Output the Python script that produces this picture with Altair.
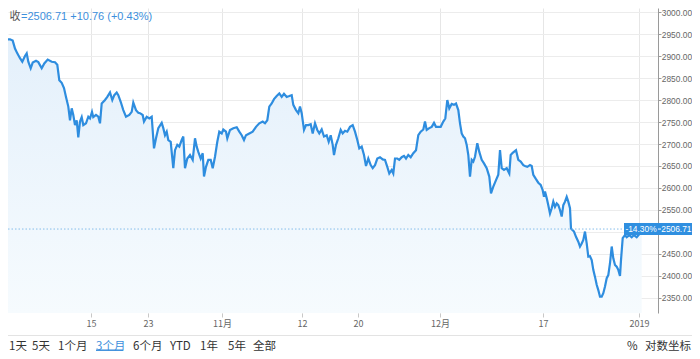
import altair as alt
import pandas as pd

# time position of each sample (in tenths of a trading day since the start of the 3-month window)
step = [
    0, 3.3, 6, 10, 12.7, 15, 17.3, 20, 22.3, 25, 26.7, 28.3, 30.7, 32.7, 36, 38.3, 41.7, 44.3, 47.7, 51.7,
    55, 57.3, 59.3, 61.7, 64, 66, 68.3, 70, 71.7, 73.3, 75, 76.7, 78.3, 80, 81.7, 83.3, 86, 88.3, 90, 92,
    93.3, 96, 98.3, 100, 101.7, 105, 107.3, 110, 112.3, 114.3, 116.7, 118.3, 120.7, 123.3, 126, 129.3, 131.7, 133.3, 136, 138.3,
    140, 142.7, 144, 146.7, 149.3, 151.7, 154, 156, 158.3, 161.7, 163.3, 165, 166.7, 168.3, 170.7, 173.3, 175, 177.3, 179.3, 181.7,
    183.3, 185, 187.3, 190, 192.7, 195, 196.7, 198.3, 200.7, 202.7, 204, 206, 208.3, 210.7, 212.7, 215, 217.3, 219.3, 221.7, 223.3,
    226, 227.3, 230, 233.3, 236.7, 239.3, 241.7, 244, 246, 249.3, 252.7, 256, 259.3, 262.7, 265, 267.3, 269.3, 271.7, 274, 276.7,
    279.3, 281.7, 284, 286.7, 289.3, 291.7, 293.3, 296, 298.3, 300, 301.7, 304, 306, 308.3, 310.7, 312.7, 315, 317.3, 319.3, 321.7,
    324, 326.7, 328.7, 330.7, 332.7, 334, 336, 338.3, 340.7, 342.7, 345, 347.3, 350, 352.7, 355, 357.3, 359.3, 361.7, 364, 366,
    368.3, 370.7, 372.7, 375, 377.3, 380, 382.7, 385, 387.3, 389.3, 391.7, 393.3, 395, 397.3, 399.3, 401.7, 404, 406, 408.3, 410.7,
    413.3, 416, 418.3, 420.7, 423.3, 425, 426.7, 429.3, 431.7, 434, 436, 438.3, 440.7, 443.3, 445.3, 447.3, 449.3, 451.7, 454, 456,
    458.3, 460, 461.7, 463.3, 465, 466.7, 468.3, 470, 471.7, 473.3, 475, 477.3, 479.3, 481.7, 484, 486.7, 489.3, 491, 493.3, 496,
    498.3, 500, 501.7, 504, 506.7, 509.3, 510.7, 512.7, 516, 518.3, 520.7, 523.3, 525, 527.3, 530, 531.7, 533.3, 536, 538.3, 540.7,
    542.7, 544, 545, 546.7, 548.3, 550, 551.7, 553.3, 555, 556.7, 558.3, 560, 561.7, 563.3, 565, 566.7, 568.3, 570, 571, 572.7,
    574, 576, 578.3, 580, 581.7, 583.3, 585, 586.7, 588.3, 590, 591.7, 593.3, 595, 596.7, 598.3, 600, 601.7, 603.3, 605, 606.7,
    608.3, 610, 611.7, 613.3, 615, 616.7, 618.3, 620, 621, 622.7, 625, 626.7, 629.3, 631.7, 634, 636.7, 639.3, 641.7,
]
close = [
    2930, 2925, 2938, 2938, 2935, 2917, 2906, 2895, 2887, 2900, 2906, 2887, 2872, 2885, 2889, 2886, 2872, 2883, 2892, 2887,
    2886, 2880, 2845, 2839, 2827, 2807, 2785, 2754, 2781, 2766, 2743, 2754, 2715, 2751, 2761, 2743, 2747, 2762, 2758, 2773,
    2761, 2766, 2762, 2747, 2792, 2800, 2807, 2817, 2800, 2811, 2817, 2811, 2796, 2777, 2762, 2766, 2773, 2794, 2777, 2771,
    2770, 2766, 2751, 2762, 2758, 2762, 2690, 2713, 2736, 2748, 2736, 2720, 2728, 2709, 2705, 2645, 2686, 2698, 2694, 2709,
    2717, 2645, 2667, 2675, 2664, 2713, 2694, 2682, 2667, 2679, 2626, 2648, 2664, 2664, 2645, 2671, 2705, 2728, 2724, 2733,
    2728, 2713, 2732, 2736, 2738, 2728, 2720, 2709, 2720, 2724, 2728, 2739, 2747, 2751, 2747, 2754, 2785, 2792, 2802, 2809,
    2815, 2807, 2814, 2807, 2809, 2811, 2789, 2777, 2770, 2785, 2770, 2732, 2743, 2743, 2745, 2724, 2747, 2732, 2724, 2733,
    2717, 2720, 2705, 2720, 2698, 2675, 2698, 2713, 2732, 2724, 2730, 2728, 2739, 2743, 2728, 2709, 2690, 2694, 2675, 2650,
    2667, 2652, 2645, 2652, 2667, 2670, 2665, 2664, 2648, 2633, 2641, 2633, 2667, 2667, 2664, 2670, 2673, 2667, 2675, 2670,
    2679, 2686, 2720, 2728, 2733, 2751, 2732, 2736, 2739, 2748, 2739, 2739, 2739, 2751, 2758, 2800, 2781, 2791, 2789, 2792,
    2777, 2747, 2724, 2717, 2713, 2698, 2675, 2626, 2664, 2660, 2671, 2702, 2682, 2664, 2656, 2645, 2626, 2588, 2603, 2618,
    2630, 2686, 2645, 2641, 2645, 2633, 2675, 2680, 2686, 2664, 2660, 2652, 2650, 2648, 2652, 2650, 2630, 2620, 2612, 2607,
    2595, 2580, 2592, 2577, 2561, 2542, 2554, 2569, 2557, 2565, 2561, 2550, 2535, 2561, 2569, 2580, 2569, 2554, 2508, 2504,
    2501, 2489, 2478, 2467, 2474, 2482, 2501, 2474, 2444, 2445, 2436, 2414, 2398, 2380, 2368, 2353, 2353, 2361, 2376, 2395,
    2402, 2429, 2467, 2440, 2425, 2421, 2414, 2400, 2436, 2486, 2493, 2488, 2493, 2488, 2493, 2488, 2495, 2506.71,
]
assert len(step) == len(close)

y_ticks = [2350, 2400, 2450, 2500, 2550, 2600, 2650, 2700, 2750, 2800, 2850, 2900, 2950, 3000]
hidden_y_label = 2500  # covered by the last-price flag in the reference
x_tick_pos = [91, 148, 222, 302, 358, 440, 543, 639]
x_tick_lab = ["15", "23", "11月", "12", "20", "12月", "17", "2019"]

last_close = 2506.71
header_label = "收"
header_value = "=2506.71  +10.76 (+0.43%)"
period_change = "-14.30%"
range_buttons = ["1天", "5天", "1个月", "3个月", "6个月", "YTD", "1年", "5年", "全部"]
active_button = "3个月"
right_buttons = ["%", "对数坐标"]

# ---- layout (pixels) ----
PLOT_W, PLOT_H = 650, 305
TOTAL_W, TOTAL_H = 684, 343
X_DOMAIN = [8, 658]
Y_DOMAIN = [2315.9, 3009.1]
FONT = "Liberation Sans, 'Noto Sans CJK SC', sans-serif"
CJK = "'Noto Sans CJK SC', 'Liberation Sans', sans-serif"
LINE = "#2e8ddf"
BLUE_TXT = "#3d8fdc"

df = pd.DataFrame({"step": step, "close": close})

label_expr = " : ".join(
    f"datum.value == {p} ? '{l}'" for p, l in zip(x_tick_pos[:-1], x_tick_lab[:-1])
) + f" : '{x_tick_lab[-1]}'"

xs = alt.Scale(domain=X_DOMAIN, nice=False, zero=False)
ys = alt.Scale(domain=Y_DOMAIN, nice=False, zero=False)

x_axis = alt.Axis(
    values=x_tick_pos, labelExpr=label_expr, grid=True, gridColor="#e6e6e6", domain=False,
    tickColor="#c8c8c8", tickSize=4, labelColor="#666666", labelFontSize=9, labelFont=CJK,
    labelPadding=2, title=None, labelFlush=False,
)
y_axis = alt.Axis(
    orient="right", values=y_ticks,
    labelExpr=f"datum.value == {hidden_y_label} ? '' : format(datum.value, '.2f')",
    grid=True, gridColor="#ececec",
    domainColor="#9a9a9a", tickColor="#9a9a9a", tickSize=3, labelColor="#666666",
    labelFontSize=8.4, labelFont=FONT, labelPadding=0.3, title=None,
)

X = lambda f: alt.X(f, scale=xs, axis=x_axis)
Y = lambda f: alt.Y(f, scale=ys, axis=y_axis)

area = alt.Chart(df).mark_area(
    clip=True,
    color=alt.Gradient(
        gradient="linear",
        stops=[alt.GradientStop(color="#e4f0fb", offset=0), alt.GradientStop(color="#f6fbfe", offset=1)],
        x1=1, x2=1, y1=0, y2=1,
    ),
).encode(x=X("step:Q"), y=Y("close:Q"), y2=alt.datum(Y_DOMAIN[0]))

line = alt.Chart(df).mark_line(clip=True, color=LINE, strokeWidth=2.2).encode(
    x=X("step:Q"), y=Y("close:Q"),
)

ref = pd.DataFrame({"y": [last_close], "x0": [X_DOMAIN[0]], "x1": [622],
                    "ytop": [last_close + 13.6], "ybot": [last_close - 13.6],
                    "pct": [period_change], "val": [f"{last_close:.2f}"]})

dotted = alt.Chart(ref).mark_rule(color="#86bdea", strokeDash=[1.5, 2], strokeWidth=1).encode(
    x=X("x0:Q"), x2="x1:Q", y=Y("y:Q"),
)

box = alt.Chart(ref).mark_rect(color="#2f8fe0").encode(
    x=alt.value(616), x2=alt.value(TOTAL_W), y=Y("ytop:Q"), y2="ybot:Q",
)

box_tick = alt.Chart(ref).mark_rule(color="white", strokeWidth=1).encode(
    x=alt.value(PLOT_W), x2=alt.value(PLOT_W + 3), y=Y("y:Q"),
)

box_pct = alt.Chart(ref).mark_text(
    color="white", fontSize=8.4, font=FONT, align="center", baseline="middle",
).encode(x=alt.value(633), y=Y("y:Q"), text="pct:N")

box_val = alt.Chart(ref).mark_text(
    color="white", fontSize=8.4, font=FONT, align="right", baseline="middle",
).encode(x=alt.value(TOTAL_W - 0.5), y=Y("y:Q"), text="val:N")

one = pd.DataFrame({"a": [0]})


def text_at(txt, x, y, color, size, font, align="left", baseline="middle"):
    return alt.Chart(one).mark_text(
        text=txt, color=color, fontSize=size, font=font, align=align, baseline=baseline,
    ).encode(x=alt.value(x), y=alt.value(y))


head1 = text_at(header_label, 1.5, 2.5, "#555555", 11, CJK, baseline="top")
head2 = text_at(header_value, 13, 2.5, BLUE_TXT, 11, FONT, baseline="top")

sep = alt.Chart(one).mark_rule(color="#e3e3e3", strokeWidth=1).encode(
    x=alt.value(0), x2=alt.value(TOTAL_W), y=alt.value(327.5),
)

btn_x = [1, 24, 50, 88, 125, 162, 192, 220, 245]
buttons = [
    text_at(b, bx, 338.5, BLUE_TXT if b == active_button else "#333333", 11.5, CJK)
    for b, bx in zip(range_buttons, btn_x)
]
underline = alt.Chart(one).mark_rule(color=BLUE_TXT, strokeWidth=1.5).encode(
    x=alt.value(88), x2=alt.value(115), y=alt.value(342.2),
)
rbuttons = [text_at(b, bx, 338.5, "#333333", 11.5, CJK) for b, bx in zip(right_buttons, [619, 637])]

chart = alt.layer(
    area, line, dotted, box, box_tick, box_pct, box_val, head1, head2, sep, *buttons, underline, *rbuttons,
).properties(
    width=PLOT_W, height=PLOT_H,
    autosize=alt.AutoSizeParams(type="none"),
    padding={"left": 0, "top": 0, "right": TOTAL_W - PLOT_W, "bottom": TOTAL_H - PLOT_H},
    background="white",
).configure_view(stroke=None)

chart.save("out.html", embed_options={"renderer": "svg", "actions": False})
